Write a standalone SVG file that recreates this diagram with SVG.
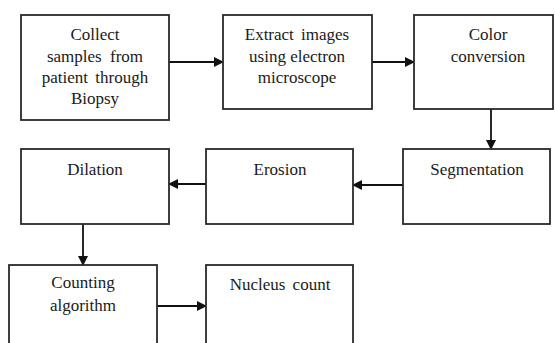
<svg xmlns="http://www.w3.org/2000/svg" width="555" height="343" viewBox="0 0 555 343">
<style>
.box{fill:#fff;stroke:#2a2a2a;stroke-width:1.8}
.t{font-family:'Liberation Serif',serif;font-size:17px;fill:#1a1a1a;text-anchor:middle}
.c{stroke:#111;stroke-width:1.8;fill:none;marker-end:url(#ah)}
</style>
<defs>
<marker id="ah" markerWidth="10" markerHeight="10" refX="9" refY="5" orient="auto" markerUnits="userSpaceOnUse">
<path d="M0,0 L10,5 L0,10 z" fill="#111"/>
</marker>
</defs>
<rect width="555" height="343" fill="#fff"/>
<g id="connectors">
<line class="c" x1="169" y1="62" x2="223" y2="62"/>
<line class="c" x1="372" y1="62" x2="414" y2="62"/>
<line class="c" x1="491" y1="109" x2="491" y2="149"/>
<line class="c" x1="403" y1="185" x2="353" y2="185"/>
<line class="c" x1="206" y1="184" x2="169" y2="184"/>
<line class="c" x1="83" y1="224" x2="83" y2="265"/>
<line class="c" x1="157" y1="306" x2="206" y2="306"/>
</g>
<g id="collect">
<rect class="box" x="21" y="15" width="148" height="105"/>
<text class="t" x="95" y="40">Collect</text>
<text class="t" x="95" y="62" word-spacing="4">samples from</text>
<text class="t" x="95" y="83" word-spacing="3">patient through</text>
<text class="t" x="95" y="104">Biopsy</text>
</g>
<g id="extract">
<rect class="box" x="223" y="15" width="149" height="94"/>
<text class="t" x="297" y="40" word-spacing="3">Extract images</text>
<text class="t" x="297" y="62">using electron</text>
<text class="t" x="297" y="83">microscope</text>
</g>
<g id="color">
<rect class="box" x="414" y="15" width="139" height="94"/>
<text class="t" x="488" y="40">Color</text>
<text class="t" x="488" y="62">conversion</text>
</g>
<g id="segmentation">
<rect class="box" x="403" y="149" width="147" height="75"/>
<text class="t" x="477" y="175">Segmentation</text>
</g>
<g id="erosion">
<rect class="box" x="206" y="149" width="147" height="75"/>
<text class="t" x="280" y="175">Erosion</text>
</g>
<g id="dilation">
<rect class="box" x="21" y="149" width="148" height="75"/>
<text class="t" x="95" y="175">Dilation</text>
</g>
<g id="counting">
<rect class="box" x="9" y="265" width="148" height="90"/>
<text class="t" x="83" y="288">Counting</text>
<text class="t" x="83" y="311">algorithm</text>
</g>
<g id="nucleus">
<rect class="box" x="206" y="265" width="147" height="90"/>
<text class="t" x="280" y="290" word-spacing="3">Nucleus count</text>
</g>
</svg>
